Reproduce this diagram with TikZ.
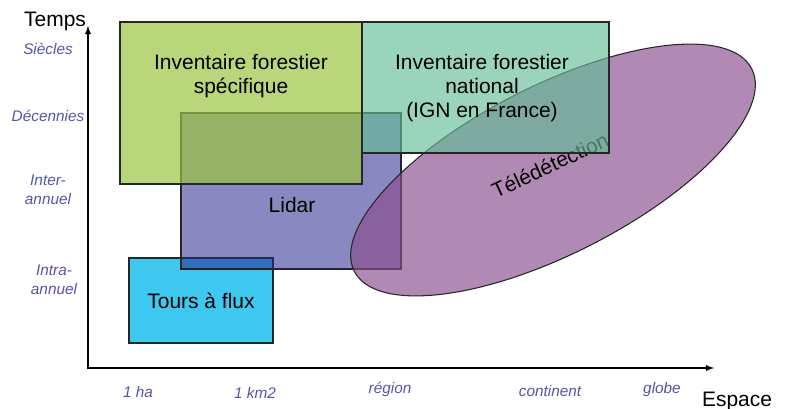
\documentclass[tikz,border=0pt]{standalone}
\usepackage{fontspec}
\setmainfont{Liberation Sans}
\definecolor{fluxcyan}{RGB}{62,200,240}
\definecolor{lidarblue}{RGB}{42,39,140}
\definecolor{televiolet}{RGB}{135,78,141}
\definecolor{greenbox}{RGB}{156,196,65}
\definecolor{tealbox}{RGB}{100,189,152}
\definecolor{scaleblue}{RGB}{85,85,170}

\begin{document}
\begin{tikzpicture}[x=0.03cm, y=0.03cm,
    box/.style={draw=black!85, line width=0.9pt},
    big/.style={font=\fontsize{17.9}{20.5}\selectfont, align=center},
    scalelabel/.style={font=\fontsize{13.1}{16.2}\selectfont\itshape, text=scaleblue, align=center}]
    \useasboundingbox (0,0) rectangle (788,408);
    \draw[box, fill=fluxcyan] (129,65) rectangle (273,150); % tours a flux
    \draw[box, fill=lidarblue, fill opacity=0.55] (181,139) rectangle (401,295); % lidar
    \draw[box, fill=televiolet, fill opacity=0.66, rotate around={27:(553,238)}] (553,238) ellipse [x radius=223, y radius=84]; % teledetection
    \node[big, rotate=25] (tele) at (550,243) {Télédétection};
    \draw[box, fill=greenbox, fill opacity=0.7] (120,224) rectangle (362,386); % inventaire specifique
    \draw[box, fill=tealbox, fill opacity=0.65] (362,255) rectangle (609,386); % inventaire national
    \node[big] (spec) at (241,332) {Inventaire forestier\\spécifique};
    \node[big] (natl) at (482,320) {Inventaire forestier\\national\\(IGN en France)};
    \node[big] (lidar) at (292,203) {Lidar};
    \node[big] (tours) at (201,107) {Tours à flux};
    % axes
    \coordinate (ytop) at (88,382);
    \coordinate (origin) at (88,40);
    \coordinate (xend) at (714,40);
    \draw[line width=1.4pt, <->, >=latex] (ytop) -- (origin) -- (xend);
    \node[big] (temps) at (55,387) {Temps};
    \node[big, anchor=base] (espace) at (737,2) {Espace};
    % time scales
    \node[scalelabel] (siecles) at (48,359) {Siècles};
    \node[scalelabel] (decennies) at (48,292) {Décennies};
    \node[scalelabel] (inter) at (48,218) {Inter-\\annuel};
    \node[scalelabel] (intra) at (54,128) {Intra-\\annuel};
    % space scales
    \node[scalelabel] (ha) at (138,16) {1 ha};
    \node[scalelabel] (km) at (255,15) {1 km2};
    \node[scalelabel] (region) at (390,19) {région};
    \node[scalelabel] (continent) at (550,17) {continent};
    \node[scalelabel] (globe) at (662,18) {globe};
\end{tikzpicture}
\end{document}
